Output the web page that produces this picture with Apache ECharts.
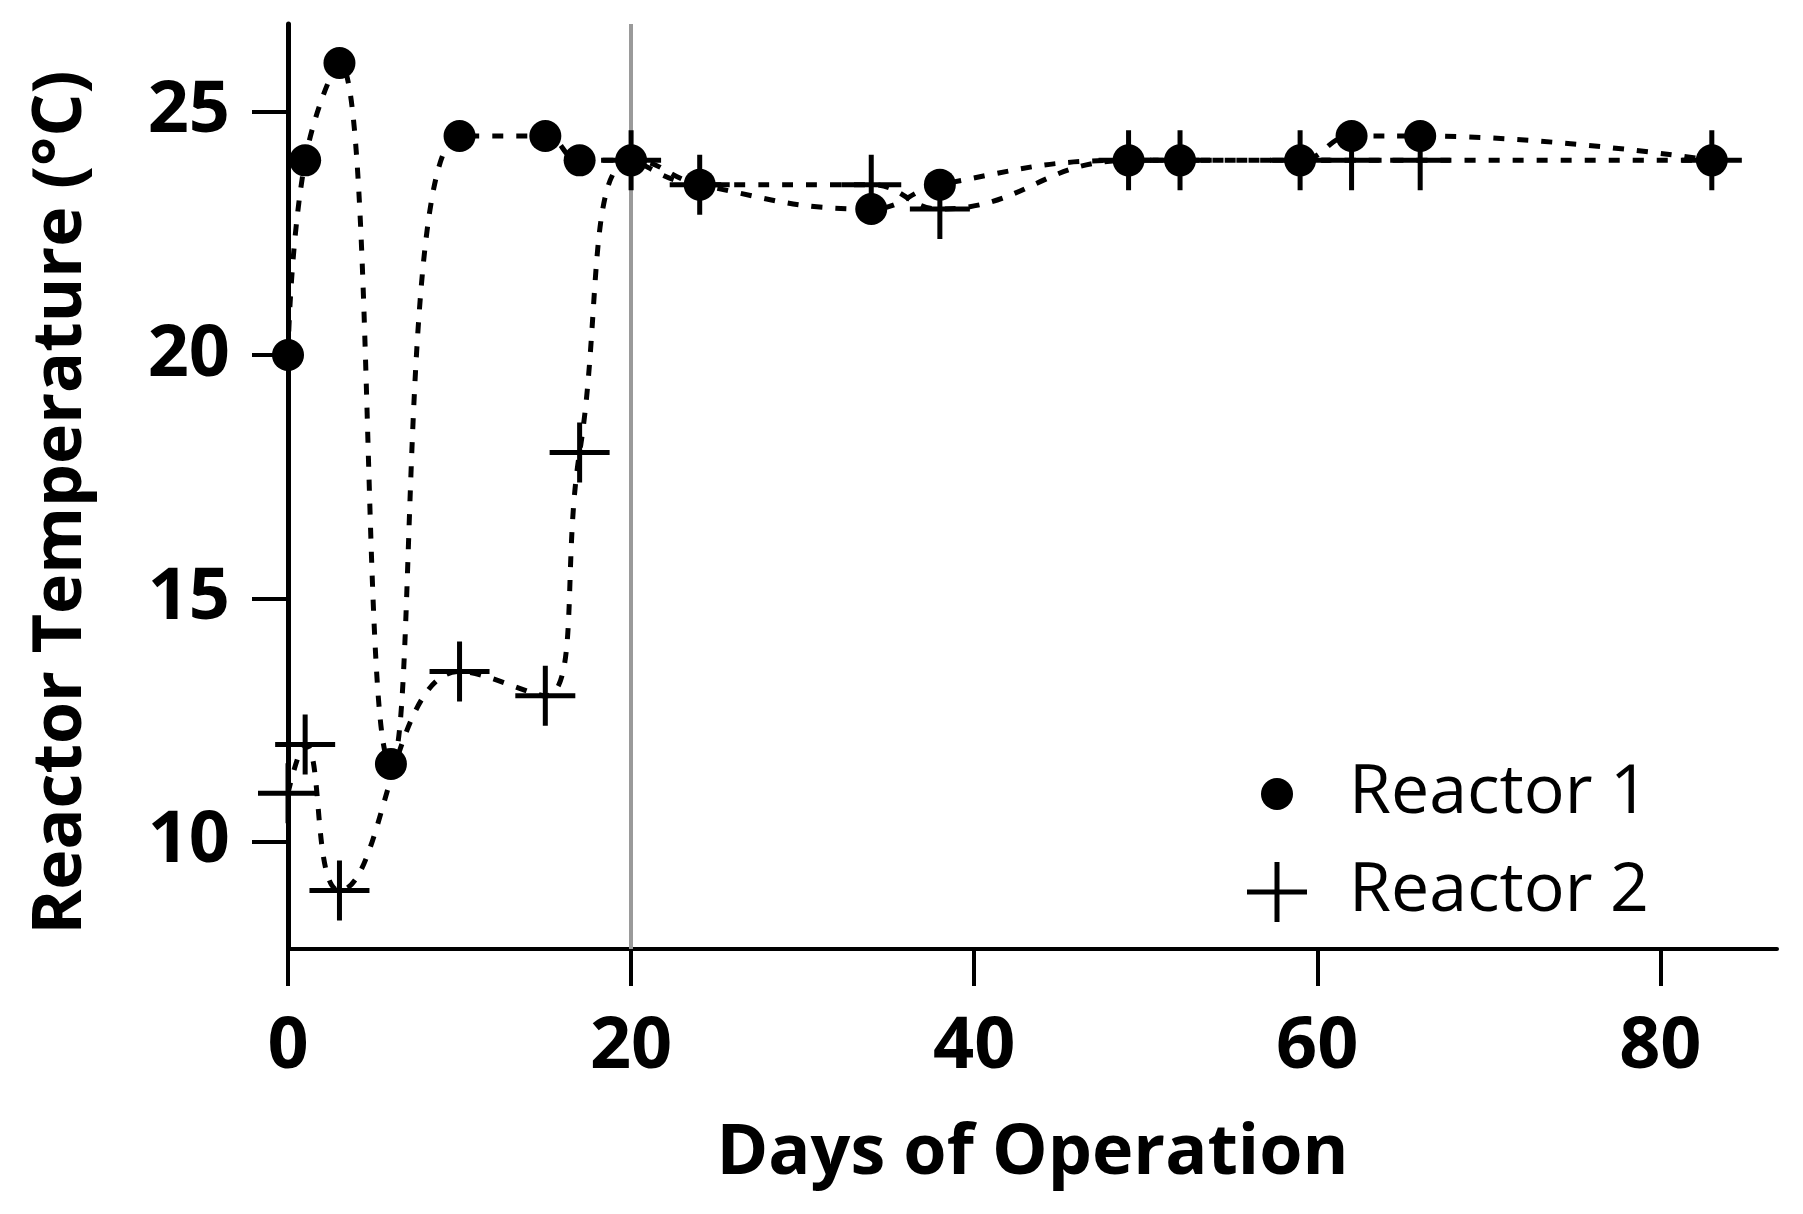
<!DOCTYPE html>
<html>
<head>
<meta charset="utf-8">
<script src="https://cdn.jsdelivr.net/npm/echarts@6/dist/echarts.min.js"></script>
<style>
  html, body { margin: 0; padding: 0; background: #fff; }
  #chart { width: 1803px; height: 1214px; }
</style>
</head>
<body>
<div id="chart"></div>
<script>
// 数据
const days1 = [0, 1, 3, 6, 10, 15, 17, 20, 24, 34, 38, 49, 52, 59, 62, 66, 83];
const temp1 = [20, 24, 26, 11.6, 24.5, 24.5, 24, 24, 23.5, 23, 23.5, 24, 24, 24, 24.5, 24.5, 24];
const days2 = [0, 1, 3, 10, 15, 17, 20, 24, 34, 38, 49, 52, 59, 62, 66, 83];
const temp2 = [11, 12, 9, 13.5, 13, 18, 24, 23.5, 23.5, 23, 24, 24, 24, 24, 24, 24];
const xTicks = [0, 20, 40, 60, 80];
const yTicks = [10, 15, 20, 25];
const names = ['Reactor 1', 'Reactor 2'];

const plusPath = 'path://M27.5,0h5v27.5h27.5v5h-27.5v27.5h-5v-27.5h-27.5v-5h27.5z';
const font = 'Open Sans';

var myChart = echarts.init(document.getElementById('chart'));

function pairs(xs, ys) {
  return xs.map(function (x, i) { return [x, ys[i]]; });
}

// 虚线样式
var lineStyle = { color: '#000', width: 5, type: [11, 13] };

var option = {
  backgroundColor: '#fff',
  animation: false,
  grid: { left: 288, right: 26, top: 24, bottom: 265, containLabel: false },
  xAxis: {
    type: 'value',
    min: 0,
    max: 86.8,
    name: 'Days of Operation',
    nameLocation: 'middle',
    nameGap: 170,
    nameTextStyle: { fontFamily: font, fontWeight: 'bold', fontSize: 70, color: '#000' },
    axisLine: { lineStyle: { color: '#000', width: 4 } },
    axisTick: { length: 37, lineStyle: { color: '#000', width: 4 }, customValues: xTicks },
    axisLabel: { fontFamily: font, fontWeight: 'bold', fontSize: 72, color: '#000', margin: 62, customValues: xTicks },
    splitLine: { show: false }
  },
  yAxis: {
    type: 'value',
    min: 7.8,
    max: 26.8,
    name: 'Reactor Temperature (°C)',
    nameLocation: 'middle',
    nameGap: 192,
    nameTextStyle: { fontFamily: font, fontWeight: 'bold', fontSize: 68, color: '#000', padding: [0, 32, 0, 0] },
    axisLine: { show: true, lineStyle: { color: '#000', width: 5 } },
    axisTick: { show: true, length: 36, lineStyle: { color: '#000', width: 4 }, customValues: yTicks },
    axisLabel: { fontFamily: font, fontWeight: 'bold', fontSize: 72, color: '#000', margin: 58, customValues: yTicks },
    splitLine: { show: false }
  },
  legend: [
    {
      data: [{ name: names[0], icon: 'circle' }],
      orient: 'vertical',
      left: 1261,
      top: 760,
      padding: 0,
      itemWidth: 32,
      itemHeight: 32,
      selectedMode: false,
      textStyle: { fontFamily: font, fontSize: 68, color: '#000', lineHeight: 60, padding: [0, 0, 0, 51] }
    },
    {
      data: [{ name: names[1], icon: plusPath }],
      orient: 'vertical',
      left: 1247,
      top: 858,
      padding: 0,
      itemWidth: 60,
      itemHeight: 60,
      selectedMode: false,
      textStyle: { fontFamily: font, fontSize: 68, color: '#000', lineHeight: 60, padding: [0, 0, 0, 37] }
    }
  ],
  series: [
    {
      name: names[0],
      type: 'line',
      data: pairs(days1, temp1),
      smooth: 0.45,
      symbol: 'circle',
      symbolSize: 32,
      itemStyle: { color: '#000' },
      lineStyle: lineStyle,
      clip: true,
      markLine: {
        silent: true,
        z: 1,
        symbol: 'none',
        label: { show: false },
        lineStyle: { color: '#9a9a9a', width: 4, type: 'solid' },
        data: [{ xAxis: 20 }]
      }
    },
    {
      name: names[1],
      type: 'line',
      data: pairs(days2, temp2),
      smooth: 0.45,
      symbol: plusPath,
      symbolSize: 60,
      itemStyle: { color: '#000' },
      lineStyle: lineStyle,
      clip: true
    }
  ]
};

myChart.setOption(option);
</script>
</body>
</html>
